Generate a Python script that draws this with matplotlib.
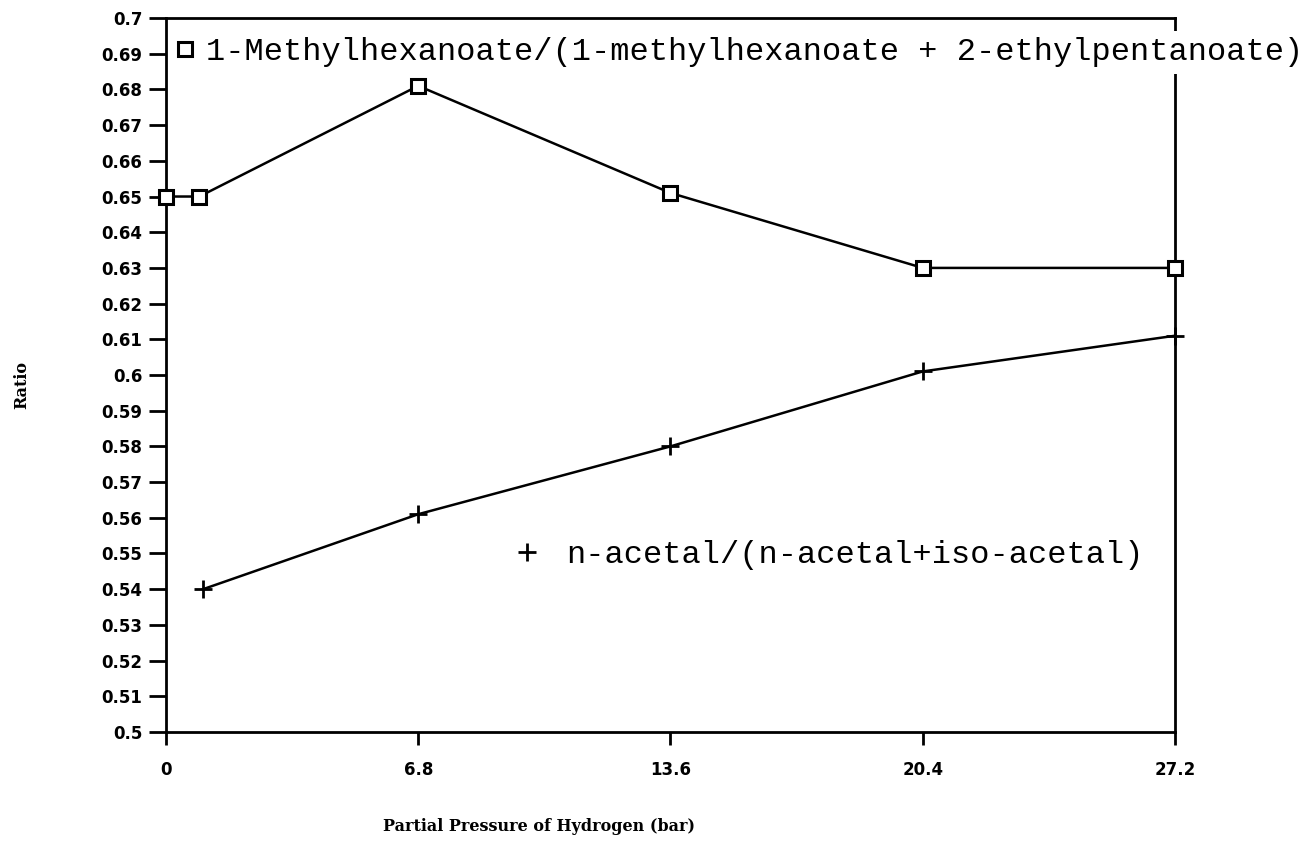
import matplotlib
matplotlib.use("Agg")
import matplotlib.pyplot as plt
from matplotlib.lines import Line2D

# Ratio of branched products vs. hydrogen partial pressure
pressure_ticks = [0, 6.8, 13.6, 20.4, 27.2]
ratio_labels = ['0.5', '0.51', '0.52', '0.53', '0.54', '0.55', '0.56', '0.57', '0.58', '0.59',
                '0.6', '0.61', '0.62', '0.63', '0.64', '0.65', '0.66', '0.67', '0.68', '0.69', '0.7']

methyl_x = [0, 0.9, 6.8, 13.6, 20.4, 27.2]
methyl_y = [0.650, 0.650, 0.681, 0.651, 0.630, 0.630]

acetal_x = [1.0, 6.8, 13.6, 20.4, 27.2]
acetal_y = [0.540, 0.561, 0.580, 0.601, 0.611]

methyl_label = '1-Methylhexanoate/(1-methylhexanoate + 2-ethylpentanoate)'
acetal_label = 'n-acetal/(n-acetal+iso-acetal)'

fig = plt.figure(figsize=(13.09, 8.55), dpi=100)
ax = fig.add_axes([0.1268, 0.1439, 0.7708, 0.835])

sq_style = dict(marker='s', ms=9.5, mfc='white', mec='black', mew=2.2)
plus_style = dict(marker='+', ms=13, mec='black', mew=2)

ax.plot(methyl_x, methyl_y, color='black', lw=1.8, clip_on=False, zorder=3, **sq_style)
ax.plot(acetal_x, acetal_y, color='black', lw=1.8, clip_on=False, zorder=3, **plus_style)

ax.set_xlim(0, 27.2)
ax.set_ylim(0.5, 0.7)
ax.set_xticks(pressure_ticks)
ax.set_xticklabels(['0', '6.8', '13.6', '20.4', '27.2'])
ax.set_yticks([float(s) for s in ratio_labels])
ax.set_yticklabels(ratio_labels)

for side in ['left', 'right', 'top', 'bottom']:
    ax.spines[side].set_linewidth(2)

ax.tick_params(axis='y', direction='out', length=12, width=2, pad=5)
ax.tick_params(axis='x', direction='out', length=9, width=2, pad=12)
for lab in ax.get_xticklabels() + ax.get_yticklabels():
    lab.set_fontweight('heavy')
    lab.set_fontsize(12)

ax.set_ylabel('Ratio', fontfamily='DejaVu Serif', fontweight='bold', fontsize=11.5)
ax.yaxis.set_label_coords(-0.135, 0.486)
ax.set_xlabel('Partial Pressure of Hydrogen (bar)', fontfamily='DejaVu Serif',
              fontweight='bold', fontsize=11.5)
ax.xaxis.set_label_coords(0.37, -0.121)

mono = {'family': 'Liberation Mono', 'size': 23}

h1 = Line2D([], [], ls='none', **sq_style)
leg1 = ax.legend([h1], [methyl_label], loc='center left', bbox_to_anchor=(0.005, 0.952),
                 prop=mono, handlelength=0.5, handletextpad=0.4, borderpad=0.2,
                 borderaxespad=0, fancybox=False, framealpha=1)
leg1.get_frame().set_edgecolor('none')
leg1.get_frame().set_facecolor('white')
ax.add_artist(leg1)

h2 = Line2D([], [], ls='none', **plus_style)
leg2 = ax.legend([h2], [acetal_label], loc='center left', bbox_to_anchor=(0.344, 0.248),
                 prop=mono, handlelength=0.5, handletextpad=0.96, borderpad=0.2,
                 borderaxespad=0, frameon=False)

fig.savefig('out.png', dpi=100)
